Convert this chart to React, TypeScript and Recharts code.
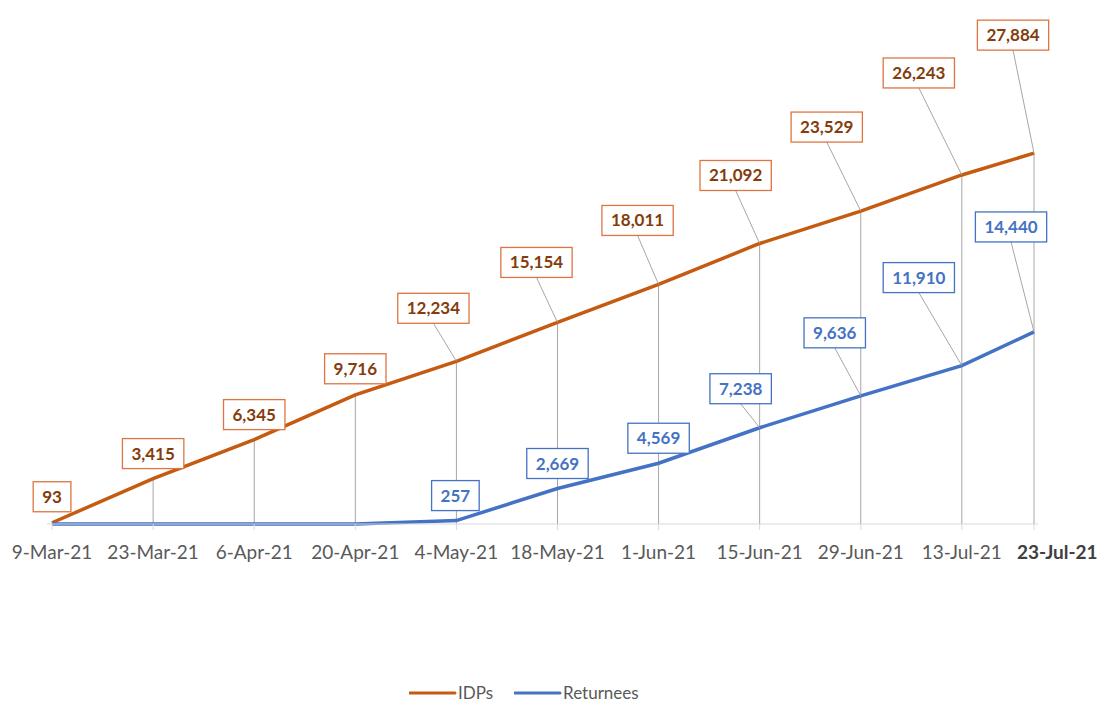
import { LineChart, Line, XAxis, YAxis, ReferenceLine, LabelList, Legend } from "recharts";

const dates = [
  "2021-03-09", "2021-03-23", "2021-04-06", "2021-04-20", "2021-05-04", "2021-05-18",
  "2021-06-01", "2021-06-15", "2021-06-29", "2021-07-13", "2021-07-23",
];
const tickLabels = [
  "9-Mar-21", "23-Mar-21", "6-Apr-21", "20-Apr-21", "4-May-21", "18-May-21",
  "1-Jun-21", "15-Jun-21", "29-Jun-21", "13-Jul-21", "23-Jul-21",
];
const idps = [93, 3415, 6345, 9716, 12234, 15154, 18011, 21092, 23529, 26243, 27884];
const returnees = [0, 0, 0, 0, 257, 2669, 4569, 7238, 9636, 11910, 14440];

// label box centre relative to its point (dragged labels in the original)
const idpLabelOffsets = [
  [0, -26], [0, -25], [0, -25], [0, -26], [-23, -53], [-21, -60],
  [-21, -64], [-24, -68], [-34, -84], [-43, -102], [-21, -118],
];
const retLabelOffsets = [
  [0, 0], [0, 0], [0, 0], [0, 0], [-1, -25], [0, -25],
  [0, -25], [-19, -39], [-26, -63], [-43, -88], [-23, -105],
];

const IDP_COLOR = "#C55A11";
const IDP_TEXT = "#843C0C";
const IDP_BORDER = "#DE7440";
const RET_COLOR = "#4472C4";
const GRID = "#A6A6A6";
const FONT = "Lato, 'Open Sans', sans-serif";

const DAY = 86400000;
const start = Date.parse(dates[0]);
const days = dates.map((d) => Math.round((Date.parse(d) - start) / DAY));

const data = days.map((day, i) => ({
  day,
  idp: idps[i],
  ret: returnees[i],
}));

let ctx: CanvasRenderingContext2D | null = null;
function textWidth(s: string, font: string) {
  if (!ctx) ctx = document.createElement("canvas").getContext("2d");
  if (!ctx) return s.length * 9;
  ctx.font = font;
  return ctx.measureText(s).width;
}

function makeLabel(offsets: number[][], textColor: string, borderColor: string) {
  return (props: any) => {
    const { x, y, value, index } = props;
    if (!value) return null;
    const text = Number(value).toLocaleString("en-US");
    const w = textWidth(text, `bold 17px ${FONT}`) + 18;
    const h = 30;
    const [dx, dy] = offsets[index];
    const cx = x + dx;
    const cy = y + dy;
    const leader = Math.abs(dx) > 5 || Math.abs(dy) > 35;
    return (
      <g>
        {leader && (
          <line x1={cx} y1={cy + h / 2} x2={x} y2={y} stroke={GRID} strokeWidth={1} />
        )}
        <rect
          x={cx - w / 2}
          y={cy - h / 2}
          width={w}
          height={h}
          fill="#fff"
          stroke={borderColor}
          strokeWidth={1.3}
        />
        <text
          x={cx}
          y={cy}
          dy={6}
          textAnchor="middle"
          fontFamily={FONT}
          fontWeight="bold"
          fontSize={17}
          fill={textColor}
        >
          {text}
        </text>
      </g>
    );
  };
}

function DateTick(props: any) {
  const { x, y, index } = props;
  const last = index === tickLabels.length - 1;
  return (
    <text
      x={last ? x - 17 : x}
      y={y}
      dy={27}
      textAnchor={last ? "start" : "middle"}
      fontFamily={FONT}
      fontSize={19}
      fontWeight={last ? "bold" : "normal"}
      fill={last ? "#404040" : "#595959"}
    >
      {tickLabels[index]}
    </text>
  );
}

function LegendContent() {
  const item = (color: string, label: string) => (
    <div style={{ display: "flex", alignItems: "center", marginRight: 21 }}>
      <svg width={48} height={6}>
        <line x1={1} y1={3} x2={46} y2={3} stroke={color} strokeWidth={3} strokeLinecap="round" />
      </svg>
      <span style={{ fontFamily: FONT, fontSize: 17, color: "#595959", marginLeft: 1 }}>{label}</span>
    </div>
  );
  return (
    <div style={{ display: "flex", alignItems: "center" }}>
      {item(IDP_COLOR, "IDPs")}
      {item(RET_COLOR, "Returnees")}
    </div>
  );
}

export default function App() {
  return (
    <div style={{ position: "absolute", left: 0, top: 0, background: "#fff" }}>
      <LineChart
        width={1097}
        height={703}
        data={data}
        margin={{ top: 125, right: 59, left: 47, bottom: 119 }}
      >
        <XAxis
          dataKey="day"
          type="number"
          domain={[-0.7, 136.55]}
          allowDataOverflow
          ticks={days}
          interval={0}
          height={60}
          tick={<DateTick />}
          tickSize={6}
          tickLine={{ stroke: "#D9D9D9" }}
          axisLine={{ stroke: "#D9D9D9" }}
        />
        <YAxis hide domain={[0, 30000]} />
        {days.map((d, i) => (
          <ReferenceLine
            key={d}
            segment={[
              { x: d, y: 0 },
              { x: d, y: Math.max(idps[i], returnees[i]) },
            ]}
            stroke={GRID}
            strokeWidth={1}
          />
        ))}
        <Line
          dataKey="idp"
          name="IDPs"
          stroke={IDP_COLOR}
          strokeWidth={3.5}
          dot={false}
          isAnimationActive={false}
        >
          <LabelList dataKey="idp" content={makeLabel(idpLabelOffsets, IDP_TEXT, IDP_BORDER)} />
        </Line>
        <Line
          dataKey="ret"
          name="Returnees"
          stroke={RET_COLOR}
          strokeWidth={3.5}
          dot={false}
          isAnimationActive={false}
        >
          <LabelList dataKey="ret" content={makeLabel(retLabelOffsets, RET_COLOR, RET_COLOR)} />
        </Line>
        <Legend
          verticalAlign="middle"
          align="center"
          content={<LegendContent />}
          wrapperStyle={{ top: 682, left: 409, width: 300 }}
        />
      </LineChart>
    </div>
  );
}
